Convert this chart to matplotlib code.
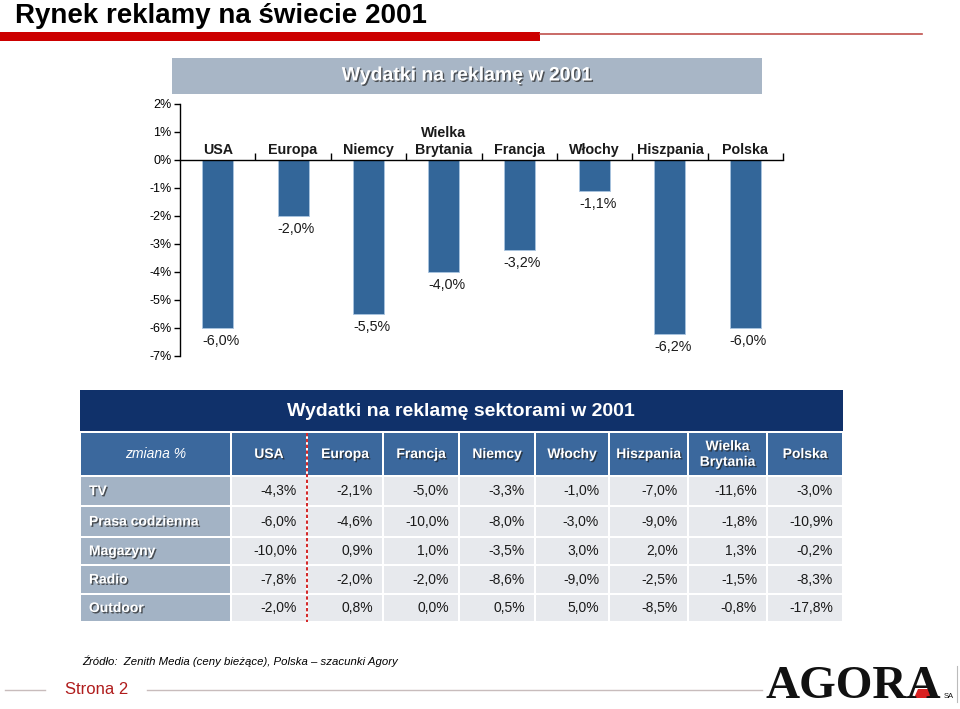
#!/usr/bin/env python3
# Slide: advertising market 2001 - bar chart + sector table
import numpy as np
import matplotlib
matplotlib.use('Agg')
import matplotlib.pyplot as plt
import matplotlib.patheffects as pe
from matplotlib.patches import Rectangle, Polygon

plt.rcParams['font.family'] = ['Liberation Sans', 'DejaVu Sans']

# bar chart data
countries = ['USA', 'Europa', 'Niemcy', 'Wielka\nBrytania', 'Francja', 'Włochy', 'Hiszpania', 'Polska']
change_2001 = [-6.0, -2.0, -5.5, -4.0, -3.2, -1.1, -6.2, -6.0]
y_ticks = [2, 1, 0, -1, -2, -3, -4, -5, -6, -7]

# table data
table_cols = ['USA', 'Europa', 'Francja', 'Niemcy', 'Włochy', 'Hiszpania', 'Wielka\nBrytania', 'Polska']
sectors = ['TV', 'Prasa codzienna', 'Magazyny', 'Radio', 'Outdoor']
tv = [-4.3, -2.1, -5.0, -3.3, -1.0, -7.0, -11.6, -3.0]
prasa = [-6.0, -4.6, -10.0, -8.0, -3.0, -9.0, -1.8, -10.9]
magazyny = [-10.0, 0.9, 1.0, -3.5, 3.0, 2.0, 1.3, -0.2]
radio = [-7.8, -2.0, -2.0, -8.6, -9.0, -2.5, -1.5, -8.3]
outdoor = [-2.0, 0.8, 0.0, 0.5, 5.0, -8.5, -0.8, -17.8]
table_vals = [tv, prasa, magazyny, radio, outdoor]


def pl(v):
    # polish decimal comma
    return '{:.1f}%'.format(v).replace('.', ',')


W, H = 960, 709
fig = plt.figure(figsize=(W / 100, H / 100), dpi=100)

# overlay axes in pixel coordinates for the slide decoration
bg = fig.add_axes([0, 0, 1, 1])
bg.set_xlim(0, W)
bg.set_ylim(H, 0)
bg.axis('off')

shadow = [pe.SimplePatchShadow(offset=(1, -1), shadow_rgbFace='#222222', alpha=0.7), pe.Normal()]

# slide title + red rule
bg.text(15, 23, 'Rynek reklamy na świecie 2001', fontsize=20, fontweight='bold',
        va='baseline', ha='left', color='black')
bg.add_patch(Rectangle((0, 32), 540, 9, color='#cc0000', lw=0))
bg.plot([540, 922], [33.5, 33.5], color='#c0504d', lw=1.2)

# chart title box
bg.add_patch(Rectangle((172, 58), 590, 36, color='#a8b6c6', lw=0))
bg.text(467, 76, 'Wydatki na reklamę w 2001', fontsize=14, fontweight='bold',
        color='white', ha='center', va='center', path_effects=shadow)

# bar chart
ax = fig.add_axes([180 / W, 1 - 356 / H, 603 / W, 252 / H])
ax.patch.set_alpha(0)
x = np.arange(len(countries))
ax.bar(x, change_2001, width=0.41, color='#336699', edgecolor='#a9c4e0', lw=0.6)
ax.set_xlim(-0.5, len(countries) - 0.5)
ax.set_ylim(-7, 2)
ax.set_yticks(y_ticks)
ax.set_yticklabels(['{}%'.format(t) for t in y_ticks], fontsize=9)
ax.tick_params(axis='y', direction='out', length=4, width=1, pad=2)
ax.set_xticks(x + 0.5)
ax.set_xticklabels([])
ax.tick_params(axis='x', direction='in', length=5, width=1)
ax.spines['bottom'].set_position(('data', 0))
ax.spines['top'].set_visible(False)
ax.spines['right'].set_visible(False)
ax.spines['left'].set_linewidth(1)
ax.spines['bottom'].set_linewidth(1)
for xi, name, v in zip(x, countries, change_2001):
    ax.text(xi, 0.1, name, ha='center', va='bottom', fontsize=10.3,
            fontweight='bold', color='#1a1a1a', linespacing=1.3)
    ax.text(xi + 0.04, v - 0.47, pl(v), ha='center', va='center', fontsize=10.3, color='#1a1a1a')

# sector table
col_edges = [80, 231, 307, 383, 459, 535, 609, 688, 767, 843]
row_edges = [476, 506, 537, 565, 594, 622]
bg.add_patch(Rectangle((80, 390), 763, 41, color='#10316a', lw=0))
bg.text(461, 411, 'Wydatki na reklamę sektorami w 2001', fontsize=14, fontweight='bold',
        color='white', ha='center', va='center')

g = 1.0
for j in range(len(col_edges) - 1):
    x0, x1 = col_edges[j], col_edges[j + 1]
    bg.add_patch(Rectangle((x0 + g, 433), x1 - x0 - 2 * g, 42, color='#3b689d', lw=0))
    xc = (x0 + x1) / 2
    if j == 0:
        bg.text(xc, 454, 'zmiana %', fontsize=10, style='italic', color='white',
                ha='center', va='center')
    else:
        bg.text(xc, 454, table_cols[j - 1], fontsize=10, fontweight='bold', color='white',
                ha='center', va='center', linespacing=1.15, path_effects=shadow)

for i, sector in enumerate(sectors):
    y0, y1 = row_edges[i], row_edges[i + 1]
    yc = (y0 + y1) / 2
    for j in range(len(col_edges) - 1):
        x0, x1 = col_edges[j], col_edges[j + 1]
        face = '#a3b3c5' if j == 0 else '#e7e9ed'
        bg.add_patch(Rectangle((x0 + g, y0 + g), x1 - x0 - 2 * g, y1 - y0 - 2 * g, color=face, lw=0))
        if j == 0:
            bg.text(x0 + 9, yc, sector, fontsize=10, fontweight='bold', color='white',
                    ha='left', va='center', path_effects=shadow)
        else:
            bg.text(x1 - 10, yc, pl(table_vals[i][j - 1]), fontsize=10, color='#1a1a1a',
                    ha='right', va='center')

# red dashed divider between USA and Europa
bg.plot([307, 307], [433, 622], color='#cc0000', lw=1.2, ls=(0, (2, 1.5)))

# footer
bg.text(82, 661, 'Źródło:  Zenith Media (ceny bieżące), Polska – szacunki Agory',
        fontsize=8.2, style='italic', color='black', ha='left', va='center')
bg.plot([5, 45], [690, 690], color='#c8bcbc', lw=1)
bg.plot([147, 762], [690, 690], color='#c8bcbc', lw=1)
bg.text(65, 689, 'Strona 2', fontsize=12, color='#b01c1c', ha='left', va='center')

# logo
yb = 698
bg.text(765, yb, 'AGORA', fontsize=34, fontweight='bold', family='Liberation Serif',
        color='#111111', ha='left', va='baseline')
bg.add_patch(Polygon([[914, yb], [918, yb - 9], [930, yb - 9], [934, yb]],
                     closed=True, color='#d92020', lw=0))
bg.text(944, yb, 'SA', fontsize=5.5, color='#111111', ha='left', va='baseline')
bg.plot([957, 957], [666, 702], color='#bbbbbb', lw=0.8)

fig.savefig('out.png', dpi=100)
